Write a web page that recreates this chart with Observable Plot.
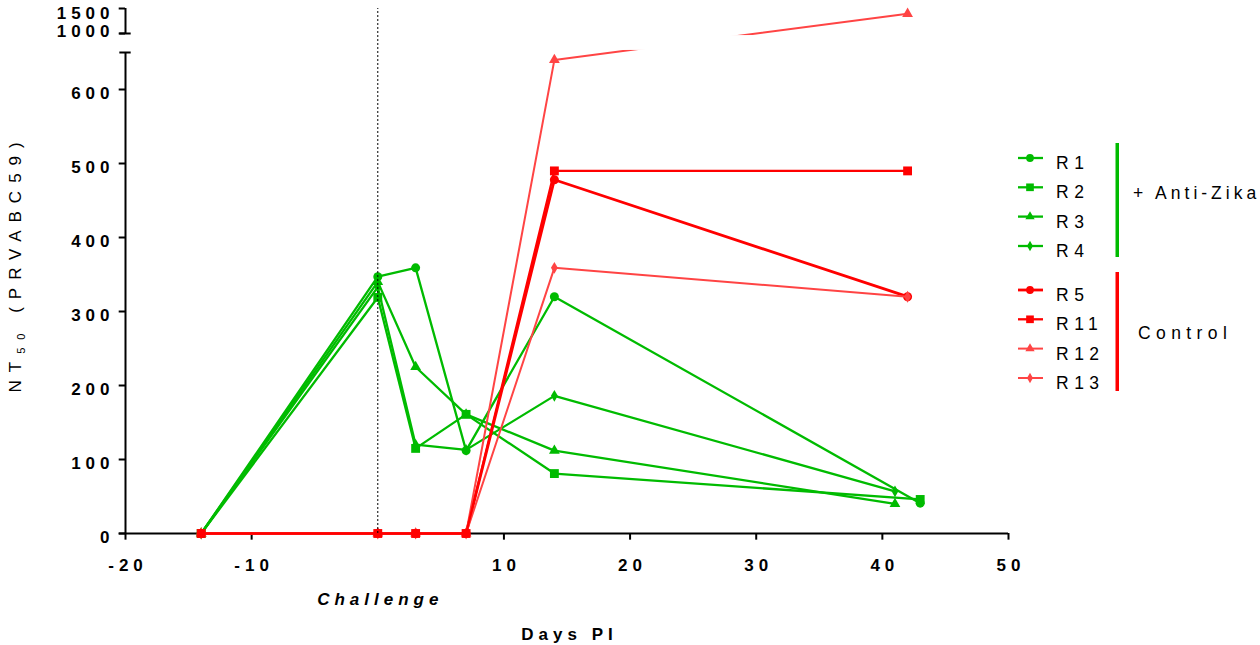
<!DOCTYPE html>
<html><head><meta charset="utf-8">
<script src="https://cdn.jsdelivr.net/npm/d3@7"></script>
<script src="https://cdn.jsdelivr.net/npm/@observablehq/plot@0.6"></script>
<style>
body{margin:0;background:#fff;}
#chart{position:relative;width:1260px;height:645px;overflow:hidden;}
svg text{font-family:"Liberation Sans",Arial,sans-serif;letter-spacing:5px;}
</style></head><body><div id="chart"></div>
<script>
// ---- data ----
const seriesNames = ["R1","R2","R3","R4","R5","R11","R12","R13"];
const groupNames = ["+ Anti-Zika","Control"];
const daysR1 = [-14, 0, 3, 7, 14, 43];  const nt50R1 = [0, 347, 359, 112, 320, 41];
const daysR2 = [-14, 0, 3, 7, 14, 43];  const nt50R2 = [0, 319, 115, 161, 81, 46];
const daysR3 = [-14, 0, 3, 7, 14, 41];  const nt50R3 = [0, 340, 225, 161, 112, 40];
const daysR4 = [-14, 0, 3, 7, 14, 41];  const nt50R4 = [0, 333, 120, 113, 186, 57];
const daysR5 = [-14, 0, 3, 7, 14, 42];  const nt50R5 = [0, 0, 0, 0, 478, 320];
const daysR11 = [-14, 0, 3, 7, 14, 42]; const nt50R11 = [0, 0, 0, 0, 490, 490];
const daysR12 = [-14, 0, 3, 7, 14, 42]; const nt50R12 = [0, 0, 0, 0, 640, 1394];
const daysR13 = [-14, 0, 3, 7, 14, 42]; const nt50R13 = [0, 0, 0, 0, 359, 320];
const xTicks = [-20, -10, 10, 20, 30, 40, 50];
const xTickLabels = ["-20", "-10", "10", "20", "30", "40", "50"];
const yTicksLow = [0, 100, 200, 300, 400, 500, 600];
const yTicksHigh = [1000, 1500];
const challengeLabel = "Challenge";
const xTitle = "Days PI";
const yTitle = "NT50 (PRVABC59)";

const allDays = [daysR1,daysR2,daysR3,daysR4,daysR5,daysR11,daysR12,daysR13];
const allVals = [nt50R1,nt50R2,nt50R3,nt50R4,nt50R5,nt50R11,nt50R12,nt50R13];
const rows = [];
seriesNames.forEach((s,i)=>allDays[i].forEach((d,j)=>rows.push({series:s, day:d, nt50:allVals[i][j]})));

// ---- styles ----
const GREEN = "#00bb00", RED = "#ff0000", LRED = "#ff4444";
const sty = {
  R1:{c:GREEN, sym:"circle", r:4.5, w:2.3},
  R2:{c:GREEN, sym:"square", r:5, w:2.3},
  R3:{c:GREEN, sym:"triangle", r:4, w:2.3},
  R4:{c:GREEN, sym:"diamond", r:3.6, w:2.3},
  R5:{c:RED, sym:"circle", r:4.5, w:2.8},
  R11:{c:RED, sym:"square", r:5, w:2.3},
  R12:{c:LRED, sym:"triangle", r:4, w:2},
  R13:{c:LRED, sym:"diamond", r:3.6, w:2}
};
const drawOrder = ["R1","R2","R3","R4","R5","R12","R13","R11"];

const seriesMarks = [];
for (const s of drawOrder) {
  const d = rows.filter(r=>r.series===s);
  seriesMarks.push(Plot.line(d, {x:"day", y:"nt50", stroke:sty[s].c, strokeWidth:sty[s].w}));
  seriesMarks.push(Plot.dot(d, {x:"day", y:"nt50", symbol:()=>sty[s].sym, r:sty[s].r, fill:sty[s].c, stroke:"none"}));
}

const bold = {fontSize:17, fontWeight:"bold", fill:"black"};
const plot = Plot.plot({
  width:1260, height:645,
  style:{background:"white", overflow:"visible"},
  x:{domain:[-20,50], range:[125,1008], axis:null},
  y:{type:"linear", domain:[0,650,1000,1500], range:[533,52,33,8], axis:null},
  symbol:{type:"identity"},
  marks:[
    Plot.ruleY([0], {x1:-20.5, x2:50, stroke:"black", strokeWidth:2}),
    Plot.ruleX(xTicks, {y1:0, y2:-9, stroke:"black", strokeWidth:2}),
    Plot.ruleX([-20], {y1:0, y2:650, stroke:"black", strokeWidth:2}),
    Plot.ruleX([-20], {y1:1000, y2:1500, stroke:"black", strokeWidth:2}),
    Plot.ruleY(yTicksLow.concat(yTicksHigh), {x1:-20.5, x2:-20, stroke:"black", strokeWidth:2}),
    Plot.ruleY([650, 1000], {x1:-20.45, x2:-19.55, stroke:"black", strokeWidth:2}),
    ...seriesMarks,
    Plot.rect([0], {x1:()=>-19.8, x2:()=>50, y1:()=>688, y2:()=>962, fill:"white"}),
    Plot.ruleX([0], {y1:0, y2:1500, stroke:"black", strokeWidth:1, strokeDasharray:"2,2"}),
    Plot.text(yTicksLow, {x:()=>-20, y:d=>d, text:d=>String(d), textAnchor:"end", dx:-11, dy:4, ...bold}),
    Plot.text([yTicksHigh[1]], {x:()=>-20, y:d=>d, text:d=>String(d), textAnchor:"end", dx:-11, dy:5, ...bold}),
    Plot.text([yTicksHigh[0]], {x:()=>-20, y:d=>d, text:d=>String(d), textAnchor:"end", dx:-11, dy:-2, ...bold}),
    Plot.text(xTicks, {x:d=>d, y:()=>0, text:(d,i)=>xTickLabels[i], dx:2.5, dy:32, ...bold}),
    Plot.text([challengeLabel], {x:()=>0, y:()=>0, text:d=>d, dx:2.5, dy:66, ...bold, fontStyle:"italic"}),
    Plot.text([xTitle], {x:()=>15, y:()=>0, text:d=>d, dx:2.5, dy:101, ...bold}),
    Plot.text([yTitle], {x:()=>-20, y:()=>365, text:d=>d, dx:-110, rotate:-90, fontSize:17, fill:"black"})
  ]
});
document.getElementById("chart").appendChild(plot);
const svg = d3.select(plot);

// subscript in y title
svg.selectAll("text").filter(function(){return this.textContent===yTitle;}).each(function(){
  const t = d3.select(this); t.text(null).style("letter-spacing","8px");
  t.append("tspan").text("NT");
  t.append("tspan").text("50").attr("font-size",11).attr("dy",4);
  t.append("tspan").text(" (PRVABC59)").attr("dy",-4);
});

// ---- legend ----
const legY = [158, 187.3, 216.6, 246, 290, 319.3, 348.6, 378];
const lg = svg.append("g").attr("text-anchor","start");
const symMap = {circle:d3.symbolCircle, square:d3.symbolSquare, triangle:d3.symbolTriangle, diamond:d3.symbolDiamond};
seriesNames.forEach((s,i)=>{
  const y = legY[i], st = sty[s];
  lg.append("line").attr("x1",1018).attr("x2",1043).attr("y1",y).attr("y2",y).attr("stroke",st.c).attr("stroke-width",st.w);
  lg.append("path").attr("transform",`translate(1030,${y})`)
    .attr("d", d3.symbol(symMap[st.sym], Math.PI*st.r*st.r*0.75)()).attr("fill",st.c);
  lg.append("text").attr("x",1056).attr("y",y+11).attr("text-anchor","start").attr("font-size",17.5).attr("fill","black").style("letter-spacing","5.5px").text(s);
});
const barColors = [GREEN, RED];
const bars = [[143,257],[272,391]];
const glx = [1133, 1138], gly = [199, 339];
groupNames.forEach((g,i)=>{
  lg.append("rect").attr("x",1115.5).attr("width",3.5).attr("y",bars[i][0]).attr("height",bars[i][1]-bars[i][0]).attr("fill",barColors[i]);
  lg.append("text").attr("x",glx[i]).attr("y",gly[i]).attr("text-anchor","start").attr("font-size",17.5).attr("fill","black").style("letter-spacing", i===0?"4px":"5.4px").text(g);
});
</script></body></html>
